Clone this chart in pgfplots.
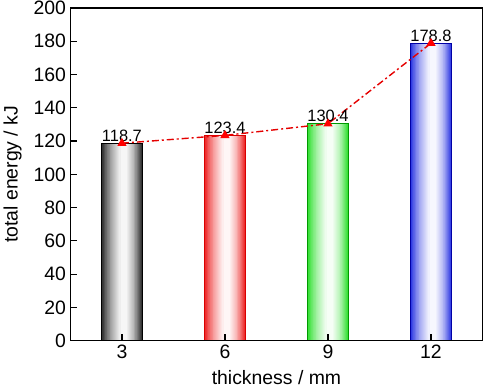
\documentclass[border=0pt]{standalone}
\usepackage{pgfplots}
\pgfplotsset{compat=1.18}
\usepackage{fontspec}
\setmainfont{Liberation Sans}
\definecolor{cBlack}{RGB}{35,35,35}
\definecolor{cRed}{RGB}{236,28,28}
\definecolor{cGreen}{RGB}{40,222,40}
\definecolor{cBlue}{RGB}{40,52,226}
\begin{document}
\begin{tikzpicture}
\useasboundingbox (-70.5bp,-48bp) rectangle (415bp,341bp);
\begin{axis}[
  at={(0,0)}, anchor=south west,
  scale only axis, width=412.5bp, height=333bp,
  xmin=1.5, xmax=13.5, ymin=0, ymax=200,
  xtick={3,6,9,12}, ytick={0,20,...,200},
  tick align=inside, tick pos=left,
  major tick length=7bp,
  axis line style={line width=1.4bp},
  every tick/.style={black, line width=1.2bp},
  /pgf/number format/assume math mode=true,
  tick label style={font=\fontsize{19.5}{20}\selectfont},
  xticklabel style={yshift=-1bp},
  yticklabel style={xshift=-1bp},
  label style={font=\fontsize{19.5}{20}\selectfont},
  xlabel={thickness / mm},
  ylabel={total energy / kJ},
  xlabel style={at={(axis description cs:0.5,-0.111)}, anchor=center},
  ylabel style={at={(axis description cs:-0.1406,0.5)}, anchor=center},
  axis on top,
  every node near coord/.append style={font=\fontsize{16.5}{17}\selectfont, anchor=south, inner sep=0.5bp, yshift=1bp, black},
]
% graded bar bodies: nested bars fading from the bar colour to white
\pgfplotsinvokeforeach{100,96,...,4}{
  \addplot[ybar, draw=none, fill=cBlack!#1!white, bar width={1.2*(#1/100)^0.6}, bar shift={0.07*(1-(#1/100)^0.6)}]
    coordinates {(3,118.7)};
  \addplot[ybar, draw=none, fill=cRed!#1!white, bar width={1.2*(#1/100)^0.6}, bar shift={0.07*(1-(#1/100)^0.6)}]
    coordinates {(6,123.4)};
  \addplot[ybar, draw=none, fill=cGreen!#1!white, bar width={1.2*(#1/100)^0.6}, bar shift={0.07*(1-(#1/100)^0.6)}]
    coordinates {(9,130.4)};
  \addplot[ybar, draw=none, fill=cBlue!#1!white, bar width={1.2*(#1/100)^0.6}, bar shift={0.07*(1-(#1/100)^0.6)}]
    coordinates {(12,178.8)};
}
% bar outlines and value labels
\addplot[ybar, bar shift=0pt, bar width=1.2, draw=black, fill=none, line width=0.8bp,
  nodes near coords, point meta=explicit symbolic]
  coordinates {(3,118.7) [118.7]};
\addplot[ybar, bar shift=0pt, bar width=1.2, draw=red!85!black, fill=none, line width=0.8bp,
  nodes near coords, point meta=explicit symbolic]
  coordinates {(6,123.4) [123.4]};
\addplot[ybar, bar shift=0pt, bar width=1.2, draw=green!60!black, fill=none, line width=0.8bp,
  nodes near coords, point meta=explicit symbolic]
  coordinates {(9,130.4) [130.4]};
\addplot[ybar, bar shift=0pt, bar width=1.2, draw=blue!65!black, fill=none, line width=0.8bp,
  nodes near coords, point meta=explicit symbolic]
  coordinates {(12,178.8) [178.8]};
\addplot[red!90!black, line width=1.4bp, dash pattern=on 7bp off 3bp on 2bp off 3bp,
  mark=triangle*, mark size=4bp, mark options={solid, fill=red, draw=red}]
  coordinates {(3,118.7) (6,123.4) (9,130.4) (12,178.8)};
\end{axis}
\end{tikzpicture}
\end{document}
